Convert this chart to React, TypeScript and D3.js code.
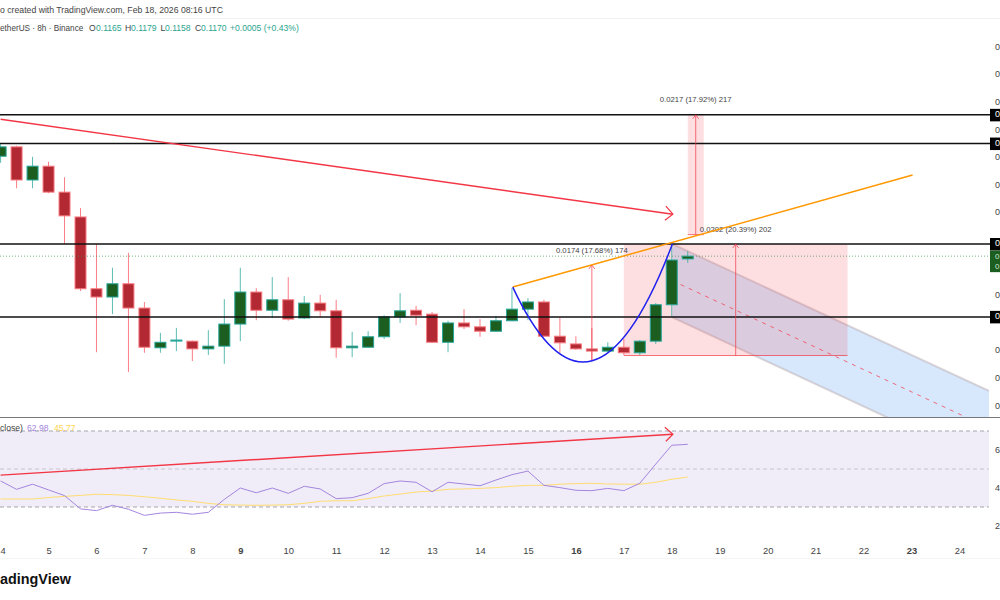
import React, { useRef, useEffect } from 'react';
import * as d3 from 'd3';

const WIDTH = 1000;
const HEIGHT = 600;

// one candle per 8h, first one sits on the "4" tick
const opens = [
  0.1351, 0.1368, 0.1308, 0.1333, 0.1286, 0.1241, 0.1111, 0.1096, 0.112, 0.1076, 0.1004,
  0.1017, 0.1016, 0.1002, 0.1007, 0.1047, 0.1105, 0.1072, 0.1091, 0.1058, 0.1085, 0.1071,
  0.1004, 0.1005, 0.1024, 0.106, 0.1072, 0.1065, 0.1014, 0.1049, 0.1042, 0.1034, 0.1053,
  0.1074, 0.1087, 0.1025, 0.1011, 0.1002, 0.0998, 0.1005, 0.0995, 0.1016, 0.1082, 0.1165,
];
const highs = [
  0.1373, 0.137, 0.135, 0.1341, 0.1313, 0.1257, 0.1192, 0.1149, 0.1176, 0.1087, 0.1031,
  0.104, 0.1017, 0.1036, 0.1092, 0.1149, 0.1112, 0.1132, 0.1132, 0.1098, 0.11, 0.1091,
  0.1033, 0.1034, 0.1063, 0.1103, 0.108, 0.1069, 0.1053, 0.1074, 0.1056, 0.1062, 0.1112,
  0.1094, 0.1091, 0.1058, 0.1025, 0.104, 0.1014, 0.102, 0.1018, 0.1085, 0.1192, 0.1179,
];
const lows = [
  0.1339, 0.1293, 0.1293, 0.1284, 0.1192, 0.1107, 0.0996, 0.1065, 0.096, 0.0995, 0.0995,
  0.0998, 0.098, 0.0991, 0.0975, 0.1016, 0.1054, 0.1058, 0.1053, 0.1056, 0.106, 0.0986,
  0.0987, 0.1004, 0.102, 0.1049, 0.1045, 0.1013, 0.0996, 0.1038, 0.1024, 0.1033, 0.1052,
  0.1054, 0.1024, 0.0995, 0.1, 0.098, 0.0996, 0.0991, 0.0991, 0.1011, 0.106, 0.1158,
];
const closes = [
  0.1368, 0.1308, 0.1333, 0.1286, 0.1243, 0.1111, 0.1096, 0.112, 0.1076, 0.1005, 0.1014,
  0.1018, 0.1002, 0.1007, 0.1047, 0.1105, 0.1072, 0.1091, 0.1056, 0.1085, 0.1071, 0.1004,
  0.1007, 0.1024, 0.106, 0.1071, 0.1063, 0.1014, 0.1049, 0.1042, 0.1034, 0.1053, 0.1074,
  0.1087, 0.1025, 0.1013, 0.1002, 0.0998, 0.1005, 0.0995, 0.1016, 0.1082, 0.1163, 0.117,
];

const rsiValues = [
  43.7, 39.3, 42, 39, 36, 29, 28.1, 30.9, 28.8, 25.6, 26.8, 27.2, 26.2, 27.2, 34, 40, 37.5,
  40, 37.2, 40.9, 39.5, 34.4, 34.9, 37.2, 42.3, 43.7, 43, 38, 43, 42.1, 41.2, 44.2, 47, 48.9,
  41.4, 40.2, 38.8, 38.6, 39.8, 38.6, 42.5, 52.6, 62.5, 62.98,
];
const rsiMa = [
  34.2, 34.2, 34.2, 35, 35.6, 36.1, 36.7, 36.5, 36.1, 35.4, 34.6, 33.7, 33, 31.9, 31.2, 31,
  30.9, 31, 31.2, 31.9, 33, 33.3, 33.3, 34.4, 35.8, 36.8, 37.9, 38.4, 39.3, 39.5, 39.8, 40.2,
  40.9, 41.4, 41.4, 42, 42.3, 42.5, 42.1, 42, 42, 43, 44.6, 45.77,
];

const dayLabels = [4, 5, 6, 7, 8, 9, 10, 11, 12, 13, 14, 15, 16, 17, 18, 19, 20, 21, 22, 23, 24];
const boldDays = [9, 16, 23];
// 0.105, 0.115 and 0.12 sit behind the level tags
const priceTicks = [0.09, 0.095, 0.1, 0.11, 0.125, 0.13, 0.135, 0.14, 0.145, 0.15, 0.155];
const rsiTicks = [20, 40, 60];
const levelPrices = [0.1426, 0.1374, 0.1192, 0.106];
const lastPrice = 0.117;

// the page edge leaves only the first digit of the axis labels
const firstDigit = (d: d3.NumberValue) => String(d)[0];

const App = () => {
  const svgRef = useRef<SVGSVGElement>(null);

  useEffect(() => {
    const svg = d3.select(svgRef.current);
    svg.selectAll('*').remove();

    const font = '"Liberation Sans", Arial, sans-serif';
    const red = '#f23645';
    const paneRight = 989;

    // Scales
    const x = d3.scaleLinear().domain([0, 60]).range([0.6, 959.4]);
    const y = d3.scaleLinear().domain([0.1, 0.15]).range([350, 74]);
    const rsiY = d3.scaleLinear().domain([30, 70]).range([507, 431]);

    svg.append('rect').attr('width', WIDTH).attr('height', HEIGHT).attr('fill', '#fff');

    const defs = svg.append('defs');
    defs.append('clipPath').attr('id', 'pane')
      .append('rect').attr('x', 0).attr('y', 0).attr('width', paneRight).attr('height', 417);
    const grad = defs.append('linearGradient').attr('id', 'oversold')
      .attr('x1', 0).attr('x2', 0).attr('y1', 0).attr('y2', 1);
    grad.append('stop').attr('offset', 0).attr('stop-color', '#f8bbd0').attr('stop-opacity', 0.6);
    grad.append('stop').attr('offset', 1).attr('stop-color', '#f8bbd0').attr('stop-opacity', 0);
    defs.append('clipPath').attr('id', 'belowThirty')
      .append('rect').attr('x', 0).attr('y', rsiY(30)).attr('width', paneRight).attr('height', 12);

    const main = svg.append('g').attr('clip-path', 'url(#pane)');

    // Parallel channel
    const chStart = 42.04;
    const chEnd = 61.85;
    const chTop = [0.1192, 0.0926];
    const chBottom = [0.1059, 0.0792];
    main.append('path')
      .attr('d', `M${x(chStart)},${y(chTop[0])}L${x(chEnd)},${y(chTop[1])}L${x(chEnd)},${y(chBottom[1])}L${x(chStart)},${y(chBottom[0])}Z`)
      .attr('fill', 'rgba(33,120,240,0.18)');
    [chTop, chBottom].forEach(edge => {
      main.append('line')
        .attr('x1', x(chStart)).attr('y1', y(edge[0]))
        .attr('x2', x(chEnd)).attr('y2', y(edge[1]))
        .attr('stroke', 'rgba(175,150,150,0.36)')
        .attr('stroke-width', 2);
    });

    // Long position box and the short target measure
    main.append('rect')
      .attr('x', x(39)).attr('width', x(53) - x(39))
      .attr('y', y(0.1192)).attr('height', y(0.099) - y(0.1192))
      .attr('fill', 'rgba(242,54,69,0.16)');
    main.append('rect')
      .attr('x', x(43)).attr('width', x(44) - x(43))
      .attr('y', y(0.1426)).attr('height', y(0.1209) - y(0.1426))
      .attr('fill', 'rgba(242,54,69,0.16)');

    main.append('line')
      .attr('x1', x(chStart)).attr('y1', y((chTop[0] + chBottom[0]) / 2))
      .attr('x2', x(chEnd)).attr('y2', y((chTop[1] + chBottom[1]) / 2))
      .attr('stroke', red).attr('stroke-opacity', 0.7)
      .attr('stroke-dasharray', '4 5');

    // Horizontal levels
    levelPrices.forEach(p => {
      svg.append('line')
        .attr('x1', 0).attr('x2', 990)
        .attr('y1', y(p)).attr('y2', y(p))
        .attr('stroke', '#111').attr('stroke-width', 1.5);
    });

    // Last price line
    svg.append('line')
      .attr('x1', 0).attr('x2', 990)
      .attr('y1', y(lastPrice)).attr('y2', y(lastPrice))
      .attr('stroke', '#3f8f4f').attr('stroke-opacity', 0.7)
      .attr('stroke-dasharray', '1 2');

    // Candles
    const candles = closes.map((c, i) => ({ i, o: opens[i], h: highs[i], l: lows[i], c }));
    const candle = main.selectAll('.candle').data(candles).enter().append('g').attr('class', 'candle');
    candle.append('line')
      .attr('x1', d => x(d.i)).attr('x2', d => x(d.i))
      .attr('y1', d => y(d.h)).attr('y2', d => y(d.l))
      .attr('stroke', d => (d.c >= d.o ? '#26a69a' : '#f7525f'))
      .attr('stroke-opacity', 0.75);
    candle.append('rect')
      .attr('x', d => x(d.i) - 5.5)
      .attr('width', 11)
      .attr('y', d => y(Math.max(d.o, d.c)))
      .attr('height', d => Math.max(1, Math.abs(y(d.o) - y(d.c))))
      .attr('fill', d => (d.c >= d.o ? '#1b5e20' : '#b22833'))
      .attr('stroke', d => (d.c >= d.o ? '#26a69a' : '#f77c80'))
      .attr('stroke-width', 1);

    const arrowHead = (tipX: number, tipY: number, a: [number, number], b: [number, number], color: string, w: number) => {
      svg.append('path')
        .attr('d', `M${tipX + a[0]},${tipY + a[1]}L${tipX},${tipY}L${tipX + b[0]},${tipY + b[1]}`)
        .attr('fill', 'none').attr('stroke', color).attr('stroke-width', w);
    };

    // Box edges and measure arrows
    const measureColor = 'rgba(242,54,69,0.7)';
    main.append('line')
      .attr('x1', x(39)).attr('x2', x(53)).attr('y1', y(0.099)).attr('y2', y(0.099))
      .attr('stroke', measureColor);
    main.append('line')
      .attr('x1', x(43)).attr('x2', x(44)).attr('y1', y(0.1209)).attr('y2', y(0.1209))
      .attr('stroke', measureColor);
    const measures = [
      { at: 37, from: 0.098, to: 0.1154, label: '0.0174 (17.68%) 174', labelAt: 251 },
      { at: 46, from: 0.099, to: 0.1192, label: '0.0202 (20.39%) 202', labelAt: 230 },
      { at: 43.5, from: 0.1209, to: 0.1426, label: '0.0217 (17.92%) 217', labelAt: 100 },
    ];
    measures.forEach(m => {
      svg.append('line')
        .attr('x1', x(m.at)).attr('x2', x(m.at))
        .attr('y1', y(m.from)).attr('y2', y(m.to))
        .attr('stroke', measureColor).attr('stroke-width', 1);
      arrowHead(x(m.at), y(m.to), [-3, 4], [3, 4], measureColor, 1);
      svg.append('text')
        .attr('x', x(m.at)).attr('y', m.labelAt)
        .attr('text-anchor', 'middle').attr('dominant-baseline', 'middle')
        .attr('fill', '#444').style('font-family', font).style('font-size', '7.7px')
        .text(m.label);
    });

    // Falling trend line with arrow
    svg.append('line')
      .attr('x1', x(0)).attr('y1', y(0.1418))
      .attr('x2', x(42.07)).attr('y2', y(0.1246))
      .attr('stroke', red).attr('stroke-width', 1.4);
    arrowHead(x(42.07), y(0.1246), [-7, -8], [-8, 6], red, 1.2);

    // Rising orange line
    svg.append('line')
      .attr('x1', x(32.05)).attr('y1', y(0.1114))
      .attr('x2', x(57.07)).attr('y2', y(0.1317))
      .attr('stroke', '#ff9800').attr('stroke-width', 1.5);

    // Blue rounded bottom
    const curve = d3.path();
    curve.moveTo(x(32.05), y(0.1114));
    curve.quadraticCurveTo(x(36.99), y(0.0808), x(42.04), y(0.1192));
    svg.append('path').attr('d', curve.toString())
      .attr('fill', 'none').attr('stroke', '#2020ee').attr('stroke-width', 1.5);

    // Pane divider and RSI band
    svg.append('line').attr('x1', 0).attr('x2', WIDTH).attr('y1', 417.5).attr('y2', 417.5)
      .attr('stroke', '#777');
    svg.append('rect')
      .attr('x', 0).attr('width', paneRight)
      .attr('y', rsiY(70)).attr('height', rsiY(30) - rsiY(70))
      .attr('fill', 'rgba(126,87,194,0.11)');
    [70, 50, 30].forEach(v => {
      svg.append('line')
        .attr('x1', 0).attr('x2', paneRight)
        .attr('y1', rsiY(v)).attr('y2', rsiY(v))
        .attr('stroke', v === 50 ? '#c4c4ca' : '#a5a5ad')
        .attr('stroke-dasharray', '4 3');
    });

    const rsiArea = d3.area<number>()
      .x((_, i) => x(i))
      .y0(rsiY(30))
      .y1(d => rsiY(d));
    svg.append('path').datum(rsiValues)
      .attr('d', rsiArea)
      .attr('fill', 'url(#oversold)')
      .attr('clip-path', 'url(#belowThirty)');

    const rsiLine = d3.line<number>().x((_, i) => x(i)).y(d => rsiY(d));
    svg.append('path').datum(rsiMa).attr('d', rsiLine)
      .attr('fill', 'none').attr('stroke', '#ffdd70').attr('stroke-width', 1);
    svg.append('path').datum(rsiValues).attr('d', rsiLine)
      .attr('fill', 'none').attr('stroke', '#a386de').attr('stroke-width', 1);

    // RSI divergence line
    svg.append('line')
      .attr('x1', x(0)).attr('y1', rsiY(46.8))
      .attr('x2', x(42.07)).attr('y2', rsiY(68.3))
      .attr('stroke', red).attr('stroke-width', 1.4);
    arrowHead(x(42.07), rsiY(68.3), [-8, -7], [-7, 7], red, 1.2);

    // Time axis
    const timeAxis = d3.axisBottom(d3.scaleLinear().domain([4, 24]).range([x(0), x(60)]))
      .tickValues(dayLabels)
      .tickSize(0)
      .tickFormat(d => String(d));
    const timeG = svg.append('g').attr('transform', 'translate(0,544)').call(timeAxis);
    timeG.select('.domain').remove();
    timeG.selectAll('text')
      .attr('fill', '#444')
      .style('font-family', font)
      .style('font-size', '9.4px')
      .style('font-weight', d => (boldDays.includes(d as number) ? '700' : '400'));
    // first label would hang off the left edge
    timeG.selectAll('text').filter(d => d === dayLabels[0])
      .attr('text-anchor', 'start')
      .attr('x', -0.6);
    svg.append('line').attr('x1', 0).attr('x2', WIDTH).attr('y1', 558.5).attr('y2', 558.5)
      .attr('stroke', '#f6f6f6');
    svg.append('line').attr('x1', 0).attr('x2', WIDTH).attr('y1', 18.5).attr('y2', 18.5)
      .attr('stroke', '#f2f2f2');

    // Price and RSI axes
    const axisFont = '9px';
    const priceAxis = d3.axisRight(y).tickValues(priceTicks).tickSize(0).tickFormat(firstDigit);
    const priceG = svg.append('g').attr('transform', 'translate(992,0)').call(priceAxis);
    priceG.select('.domain').remove();
    priceG.selectAll('text').attr('fill', '#444').style('font-family', font).style('font-size', axisFont);

    const rsiAxis = d3.axisRight(rsiY).tickValues(rsiTicks).tickSize(0).tickFormat(firstDigit);
    const rsiG = svg.append('g').attr('transform', 'translate(992,0)').call(rsiAxis);
    rsiG.select('.domain').remove();
    rsiG.selectAll('text').attr('fill', '#444').style('font-family', font).style('font-size', axisFont);

    // Level tags on the axis
    levelPrices.forEach(p => {
      svg.append('rect')
        .attr('x', 990).attr('width', 10)
        .attr('y', y(p) - 6).attr('height', 12.5)
        .attr('fill', '#000');
      svg.append('text')
        .attr('x', 995).attr('y', y(p)).attr('dominant-baseline', 'middle')
        .attr('fill', '#fff').style('font-family', font).style('font-size', axisFont)
        .text(firstDigit(p));
    });
    svg.append('rect')
      .attr('x', 990).attr('width', 10)
      .attr('y', y(lastPrice) - 5.5).attr('height', 21.5)
      .attr('fill', '#1b5e20');
    [1, 10.5].forEach(dy => {
      svg.append('text')
        .attr('x', 995).attr('y', y(lastPrice) + dy).attr('dominant-baseline', 'middle')
        .attr('fill', '#cfe3d0').style('font-family', font).style('font-size', '8px')
        .text(firstDigit(lastPrice));
    });

    // Header and legends
    const label = (txt: string, lx: number, ly: number, color: string, size = 8.6, weight = 400) =>
      svg.append('text')
        .attr('x', lx).attr('y', ly).attr('dominant-baseline', 'middle')
        .attr('fill', color)
        .style('font-family', font).style('font-size', `${size}px`).style('font-weight', weight)
        .text(txt);

    label('o created with TradingView.com, Feb 18, 2026 08:16 UTC', 0, 10.5, '#444', 8.7);
    label('etherUS · 8h · Binance', 0, 29, '#444', 8.2);
    const teal = '#2aa58f';
    label('O', 89, 29, '#444');
    label('0.1165', 96, 29, teal);
    label('H', 125, 29, '#444');
    label('0.1179', 131, 29, teal);
    label('L', 160.5, 29, '#444');
    label('0.1158', 165, 29, teal);
    label('C', 195, 29, '#444');
    label('0.1170', 201, 29, teal);
    label('+0.0005 (+0.43%)', 230, 29, teal);

    label('close)', 0, 429, '#444');
    label('62.98', 27, 429, '#a386de');
    label('45.77', 54, 429, '#ffd54f');

    label('adingView', 0, 580, '#111', 14.4, 700);
  }, []);

  return (
    <svg
      ref={svgRef}
      width={WIDTH}
      height={HEIGHT}
      viewBox={`0 0 ${WIDTH} ${HEIGHT}`}
      style={{ position: 'absolute', left: 0, top: 0, display: 'block' }}
    />
  );
};

export default App;
